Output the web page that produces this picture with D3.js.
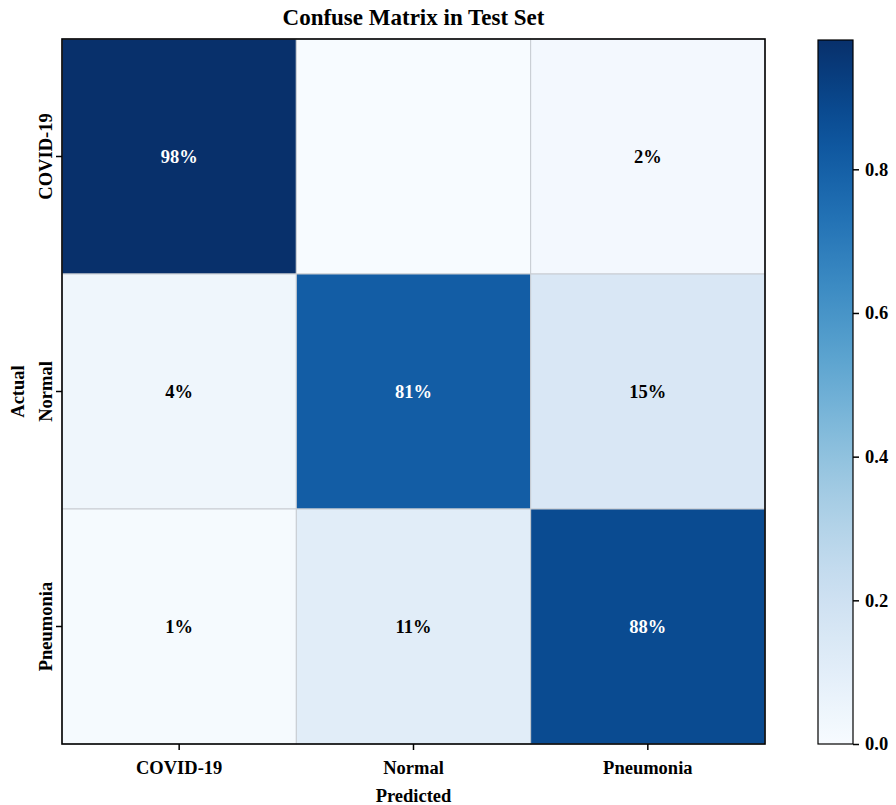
<!DOCTYPE html>
<html>
<head>
<meta charset="utf-8">
<script src="https://cdn.jsdelivr.net/npm/d3@7"></script>
<style>
body { margin: 0; background: #fff; }
text { font-family: "Liberation Serif", "Times New Roman", serif; font-weight: bold; }
</style>
</head>
<body>
<svg id="chart" width="896" height="805"></svg>
<script>
const categories = ["COVID-19", "Normal", "Pneumonia"];
const rowCOVID = [0.98, 0.00, 0.02];
const rowNormal = [0.04, 0.81, 0.15];
const rowPneumonia = [0.01, 0.11, 0.88];
const matrix = [rowCOVID, rowNormal, rowPneumonia];
const cbTicks = [0.0, 0.2, 0.4, 0.6, 0.8];

(function () {
const svg = d3.select("#chart");
const pL = 62, pR = 765, pT = 39, pB = 744;
const x = d3.scaleBand().domain(categories).range([pL, pR]);
const y = d3.scaleBand().domain(categories).range([pT, pB]);
const vmax = d3.max(matrix.flat());
const color = d3.scaleSequential(d3.interpolateBlues).domain([0, vmax]);

const cells = [];
matrix.forEach((row, i) => row.forEach((v, j) => cells.push({ r: categories[i], c: categories[j], v })));

svg.append("g").selectAll("rect").data(cells).join("rect")
  .attr("x", d => x(d.c)).attr("y", d => y(d.r))
  .attr("width", x.bandwidth()).attr("height", y.bandwidth())
  .attr("fill", d => color(d.v))
  .attr("stroke", "#c8ccd2").attr("stroke-width", 1);

svg.append("g").selectAll("text").data(cells.filter(d => d.v > 0)).join("text")
  .attr("x", d => x(d.c) + x.bandwidth() / 2)
  .attr("y", d => y(d.r) + y.bandwidth() / 2)
  .attr("text-anchor", "middle").attr("dominant-baseline", "central")
  .attr("font-size", 18.5)
  .attr("fill", d => d.v > vmax / 2 ? "#ffffff" : "#000000")
  .text(d => Math.round(d.v * 100) + "%");

svg.append("rect").attr("x", pL).attr("y", pT)
  .attr("width", pR - pL).attr("height", pB - pT)
  .attr("fill", "none").attr("stroke", "#000").attr("stroke-width", 1.6);

const styleText = sel => sel.attr("font-size", 18.5).attr("font-family", "Liberation Serif")
  .attr("font-weight", "bold").attr("fill", "#000");

// x axis
const xAxis = svg.append("g").attr("transform", `translate(0,${pB})`)
  .call(d3.axisBottom(x).tickSize(6).tickPadding(11));
xAxis.select(".domain").remove();
xAxis.selectAll("line").attr("stroke-width", 1.5);
xAxis.selectAll("text").call(styleText);

// y axis
const yAxis = svg.append("g").attr("transform", `translate(${pL},0)`)
  .call(d3.axisLeft(y).tickSize(6).tickPadding(8));
yAxis.select(".domain").remove();
yAxis.selectAll("line").attr("stroke-width", 1.5);
yAxis.selectAll(".tick text").call(styleText)
  .attr("text-anchor", "middle").attr("x", 0).attr("y", 0).attr("dy", null)
  .attr("transform", "translate(-10,0) rotate(-90)");

svg.append("text").attr("x", (pL + pR) / 2).attr("y", 25)
  .attr("text-anchor", "middle").attr("font-size", 23).text("Confuse Matrix in Test Set");
svg.append("text").attr("x", (pL + pR) / 2).attr("y", 802)
  .attr("text-anchor", "middle").attr("font-size", 18.5).text("Predicted");
svg.append("text").attr("transform", `translate(24,${(pT + pB) / 2}) rotate(-90)`)
  .attr("text-anchor", "middle").attr("font-size", 18.5).text("Actual");

// colorbar
const cbX = 818, cbW = 35;
const cbY = d3.scaleLinear().domain([0, vmax]).range([pB, pT + 1]);
const defs = svg.append("defs");
const grad = defs.append("linearGradient").attr("id", "cbgrad").attr("x1", 0).attr("x2", 0).attr("y1", 1).attr("y2", 0);
d3.range(0, 1.0001, 0.05).forEach(t => grad.append("stop").attr("offset", t).attr("stop-color", color(t * vmax)));
svg.append("rect").attr("x", cbX).attr("y", cbY(vmax)).attr("width", cbW).attr("height", pB - cbY(vmax))
  .attr("fill", "url(#cbgrad)").attr("stroke", "#000").attr("stroke-width", 1.2);
const cbAxis = svg.append("g").attr("transform", `translate(${cbX + cbW},0)`)
  .call(d3.axisRight(cbY).tickValues(cbTicks).tickFormat(d3.format(".1f")).tickSize(6).tickPadding(6));
cbAxis.select(".domain").remove();
cbAxis.selectAll("line").attr("stroke-width", 1.5);
cbAxis.selectAll("text").call(styleText);
})();
</script>
</body>
</html>
